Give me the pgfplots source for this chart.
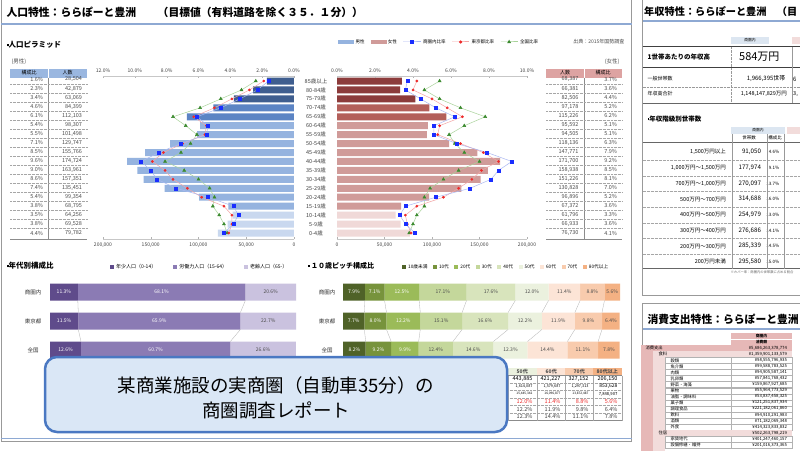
\documentclass[border=0pt]{standalone}
\usepackage{pgfplots}
\pgfplotsset{compat=1.18}
\usepackage{fontspec}
\setmainfont{Noto Sans CJK JP}
\newcommand\fs[1]{\fontsize{#1}{#1}\selectfont}
\definecolor{mA}{HTML}{3F5E8F}
\definecolor{mB}{HTML}{5B84C4}
\definecolor{mC}{HTML}{95B3DF}
\definecolor{mD}{HTML}{C9D8EF}
\definecolor{fA}{HTML}{8C3B3B}
\definecolor{fB}{HTML}{B35F5A}
\definecolor{fC}{HTML}{D09B99}
\definecolor{fD}{HTML}{F0D9D8}
\definecolor{blL}{HTML}{AAB8F2}
\definecolor{blM}{HTML}{1A2EFF}
\definecolor{rdL}{HTML}{F4A6A6}
\definecolor{rdM}{HTML}{EE2A2A}
\definecolor{gnL}{HTML}{A9D39A}
\definecolor{gnM}{HTML}{3B8A2E}
\definecolor{pA}{HTML}{5F4B8B}
\definecolor{pB}{HTML}{8B7BB4}
\definecolor{pC}{HTML}{CAC2DF}
\definecolor{g1}{HTML}{4F6228}
\definecolor{g2}{HTML}{77933C}
\definecolor{g3}{HTML}{9BBB59}
\definecolor{g4}{HTML}{C4D79B}
\definecolor{g5}{HTML}{D8E4BC}
\definecolor{g6}{HTML}{EBF1DE}
\definecolor{g7}{HTML}{FCE4D6}
\definecolor{g8}{HTML}{F8CBAD}
\definecolor{g9}{HTML}{F4B183}
\definecolor{hdrB}{HTML}{DCE6F1}
\definecolor{hdrP}{HTML}{F2DCDB}
\definecolor{pk}{HTML}{E6B8B7}
\definecolor{tblB}{HTML}{9AB7E0}
\definecolor{tblP}{HTML}{DDA3A2}
\definecolor{lineB}{HTML}{8EA9D3}
\definecolor{cfill}{HTML}{DAE7F6}
\definecolor{cedge}{HTML}{4A78C2}
\pgfplotsset{
 pyr/.style={scale only axis, height=163pt, ymin=-0.67, ymax=17.56, axis y line=none,
   axis line style={draw=black!22}, tick style={draw=black!30}, major tick length=2pt,
   tick label style={font=\fs{5}, text=black!75}, clip=false, xmin=0, scaled x ticks=false},
 stk/.style={scale only axis, height=75.4pt, xmin=0, xmax=100, ymin=-0.3, ymax=2.3, hide axis, clip=false},
 sq/.style={legend image code/.code={\fill (0pt,-2pt) rectangle (4pt,2pt);}},
 sl/.style={black!30, line width=0.3pt, forget plot},
}
\begin{document}
\begin{tikzpicture}[font=\fs{5}]
\path[use as bounding box] (0pt,0pt) rectangle (800pt,-450pt);
\begin{scope}[x=1pt,y=-1pt]
\fill[white] (0,0) rectangle (800,450);
% ---------- left panel frame ----------
\draw[black!40, line width=0.6pt] (1,-1) -- (1,441) -- (631.5,441) -- (631.5,-1);
\draw[lineB, line width=1.2pt] (1,24) -- (631.5,24);
\draw[lineB, line width=0.8pt] (1,438) -- (631.5,438);
\node[anchor=west, font=\fs{10.8}\bfseries] at (3,12) {人口特性：ららぽーと豊洲　　（目標値（有料道路を除く３５．１分））};
\node[anchor=east, font=\fs{5}, text=black!70] at (628,42) {出典：2015年国勢調査};
\node[anchor=west, font=\fs{7.5}\bfseries] at (3,45) {\rule[1.5pt]{2pt}{2pt}人口ピラミッド};
% ---------- male table ----------
\node[anchor=west, font=\fs{5.5}, text=black!70] at (8,62) {(男性)};
\fill[tblB] (10,68.5) rectangle (87,77.5);
\draw[white, line width=0.6pt] (48,68.5) -- (48,77.5);
\node[font=\fs{5}] at (29,73) {構成比};
\node[font=\fs{5}] at (67.5,73) {人数};
\draw[black!45, line width=0.4pt] (48,77.5) -- (48,239);
\draw[black!45, line width=0.5pt] (10,239) -- (87,239);
\foreach \r/\n [count=\i from 0] in {1.6/{28,504}, 2.3/{42,879}, 3.4/{63,069}, 4.6/{84,399}, 6.1/{112,103}, 5.4/{98,307}, 5.5/{101,498}, 7.1/{129,747}, 8.5/{155,766}, 9.6/{174,724}, 9.0/{163,961}, 8.6/{157,351}, 7.4/{135,451}, 5.4/{99,354}, 3.8/{68,795}, 3.5/{64,256}, 3.8/{69,528}, 4.4/{79,782}}{
  \node[anchor=east, font=\fs{5.5}, text=black!70] at (46.5,79.5+\i*9.03) {\r\%};
  \node[anchor=east, font=\fs{5.5}, text=black!70] at (85.5,79.5+\i*9.03) {\n};
}
\foreach \i in {0,...,16}{\draw[black!35, densely dotted, line width=0.35pt] (10,84+\i*9.03) -- (87,84+\i*9.03);}
% ---------- female table ----------
\node[anchor=east, font=\fs{5.5}, text=black!70] at (623,62) {(女性)};
\fill[tblP] (546,68.5) rectangle (622,77.5);
\draw[white, line width=0.6pt] (584,68.5) -- (584,77.5);
\node[font=\fs{5}] at (565,73) {人数};
\node[font=\fs{5}] at (603,73) {構成比};
\draw[black!45, line width=0.4pt] (584,77.5) -- (584,239);
\draw[black!45, line width=0.5pt] (546,239) -- (622,239);
\foreach \r/\n [count=\i from 0] in {3.7/{68,387}, 3.6/{66,381}, 4.4/{82,506}, 5.2/{97,178}, 6.2/{115,226}, 5.1/{95,592}, 5.1/{94,505}, 6.3/{118,136}, 7.9/{147,771}, 9.2/{171,700}, 8.5/{158,938}, 8.1/{151,226}, 7.0/{130,828}, 5.2/{96,896}, 3.6/{67,372}, 3.3/{61,796}, 3.6/{66,933}, 4.1/{76,730}}{
  \node[anchor=east, font=\fs{5.5}, text=black!70] at (582,79.5+\i*9.03) {\n};
  \node[anchor=east, font=\fs{5.5}, text=black!70] at (620.5,79.5+\i*9.03) {\r\%};
}
\foreach \i in {0,...,16}{\draw[black!35, densely dotted, line width=0.35pt] (546,84+\i*9.03) -- (622,84+\i*9.03);}
% ---------- age labels ----------
\foreach \a [count=\i from 0] in {85歳以上,80-84歳,75-79歳,70-74歳,65-69歳,60-64歳,55-59歳,50-54歳,45-49歳,40-44歳,35-39歳,30-34歳,25-29歳,20-24歳,15-19歳,10-14歳,5-9歳,0-4歳}{
  \node[font=\fs{5.5}, text=black!75] at (316,81+\i*8.94) {\a};
}
% ---------- bottom headings ----------
\node[anchor=west, font=\fs{7.5}\bfseries] at (3,266) {\rule[1.5pt]{2pt}{2pt}年代別構成比};
\node[anchor=west, font=\fs{7}\bfseries] at (304,266) {\rule[1.5pt]{2pt}{2pt}\ １０歳ピッチ構成比};
\foreach \c/\y in {商圏内/292,東京都/321,全国/350}{
  \node[font=\fs{5.5}, text=black!80] at (33,\y) {\c};
  \node[font=\fs{5.5}, text=black!80] at (327,\y) {\c};
}
% ---------- bottom table (visible part) ----------
\foreach \x/\c/\t in {508/g6/50代,537/g7/60代,565/g8/70代,593/g9/80代以上}{
  \fill[\c] (\x,367.5) rectangle (\x+28.5,375.5);
  \node[font=\fs{5}\bfseries, text=black!70] at (\x+14.2,371.5) {\t};
}
\draw[black!45, line width=0.4pt] (330,375.5) -- (622,375.5);
\foreach \i in {0,...,4}{\draw[black!35, densely dotted, line width=0.35pt] (330,382.7+\i*7.5) -- (622,382.7+\i*7.5);}
\draw[black!45, line width=0.4pt] (330,420.5) -- (622,420.5);
\foreach \x in {508,537,565,593,622}{\draw[black!35, line width=0.3pt] (\x,375.5) -- (\x,420.5);}
\node[anchor=east, font=\fs{5.5}] at (536,379) {443,885};
\node[anchor=east, font=\fs{5.5}] at (564,379) {421,227};
\node[anchor=east, font=\fs{5.5}] at (592,379) {327,152};
\node[anchor=east, font=\fs{5.5}] at (621,379) {206,150};
\node[anchor=east, font=\fs{3.8}] at (536,386.5) {1,614,087};
\node[anchor=east, font=\fs{3.8}] at (564,386.5) {1,579,687};
\node[anchor=east, font=\fs{3.8}] at (592,386.5) {1,297,313};
\node[anchor=east, font=\fs{5}] at (621,386.5) {853,628};
\node[anchor=east, font=\fs{3.2}] at (536,394) {15,445,342};
\node[anchor=east, font=\fs{3.2}] at (564,394) {16,096,877};
\node[anchor=east, font=\fs{3.2}] at (592,394) {13,872,487};
\node[anchor=east, font=\fs{4.2}] at (621,394) {7,848,907};
\foreach \a/\b/\c/\d/\y/\col in {12.0/11.4/8.8/5.6/401.5/rdM, 12.2/11.9/9.8/6.4/409/black!75, 12.3/14.4/11.1/7.8/416.5/black!75}{
  \node[anchor=east, font=\fs{5.5}, text=\col] at (536,\y) {\a\%};
  \node[anchor=east, font=\fs{5.5}, text=\col] at (564,\y) {\b\%};
  \node[anchor=east, font=\fs{5.5}, text=\col] at (592,\y) {\c\%};
  \node[anchor=east, font=\fs{5.5}, text=\col] at (621,\y) {\d\%};
}
\end{scope}

% ================= PYRAMID: male =================
\begin{axis}[pyr, at={(103pt,-239pt)}, anchor=south west, width=191pt, x dir=reverse, xmax=200000,
  axis x line*=bottom, xtick={0,50000,100000,150000,200000},
  xticklabels={0,{50,000},{100,000},{150,000},{200,000}}, xbar, bar width=7pt]
\addplot[fill=mA, draw=none, bar shift=0pt] coordinates {(28504,17) (42879,16) (63069,15)};
\addplot[fill=mB, draw=none, bar shift=0pt] coordinates {(84399,14) (112103,13)};
\addplot[fill=mC, draw=none, bar shift=0pt] coordinates {(98307,12) (101498,11) (129747,10) (155766,9) (174724,8) (163961,7) (157351,6) (135451,5) (99354,4) (68795,3)};
\addplot[fill=mD, draw=none, bar shift=0pt] coordinates {(64256,2) (69528,1) (79782,0)};
\end{axis}
\begin{axis}[pyr, at={(103pt,-239pt)}, anchor=south west, width=191pt, x dir=reverse, xmax=12,
  axis x line*=top, xtick={0,2,4,6,8,10,12},
  xticklabels={0.0\%,2.0\%,4.0\%,6.0\%,8.0\%,10.0\%,12.0\%}]
\addplot[gnL, line width=0.5pt, mark=triangle*, mark size=1.7pt, mark options={draw=gnM, fill=gnM}] coordinates {(2.4,17) (3.3,16) (4.6,15) (5.9,14) (7.6,13) (6.8,12) (6.1,11) (6.5,10) (7.1,9) (8.1,8) (6.9,7) (6.0,6) (5.3,5) (5.0,4) (5.1,3) (4.7,2) (4.4,1) (4.2,0)};
\addplot[rdL, line width=0.5pt, mark=*, mark size=1.1pt, mark options={draw=rdM, fill=rdM}] coordinates {(1.9,17) (2.8,16) (3.9,15) (5.0,14) (6.3,13) (5.5,12) (5.6,11) (7.0,10) (8.2,9) (8.9,8) (8.1,7) (7.6,6) (6.7,5) (5.8,4) (4.4,3) (3.9,2) (3.9,1) (4.1,0)};
\addplot[blL, line width=0.5pt, mark=square*, mark size=1.5pt, mark options={draw=blM, fill=blM}] coordinates {(1.6,17) (2.3,16) (3.4,15) (4.6,14) (6.1,13) (5.4,12) (5.5,11) (7.1,10) (8.5,9) (9.6,8) (9.0,7) (8.6,6) (7.4,5) (5.4,4) (3.8,3) (3.5,2) (3.8,1) (4.4,0)};
\end{axis}

% ================= PYRAMID: female =================
\begin{axis}[pyr, at={(337pt,-239pt)}, anchor=south west, width=190pt, xmax=200000,
  axis x line*=bottom, xtick={0,50000,100000,150000,200000},
  xticklabels={0,{50,000},{100,000},{150,000},{200,000}}, xbar, bar width=7pt]
\addplot[fill=fA, draw=none, bar shift=0pt] coordinates {(68387,17) (66381,16) (82506,15)};
\addplot[fill=fB, draw=none, bar shift=0pt] coordinates {(97178,14) (115226,13)};
\addplot[fill=fC, draw=none, bar shift=0pt] coordinates {(95592,12) (94505,11) (118136,10) (147771,9) (171700,8) (158938,7) (151226,6) (130828,5) (96896,4) (67372,3)};
\addplot[fill=fD, draw=none, bar shift=0pt] coordinates {(61796,2) (66933,1) (76730,0)};
\end{axis}
\begin{axis}[pyr, at={(337pt,-239pt)}, anchor=south west, width=190pt, xmax=10,
  axis x line*=top, xtick={0,2,4,6,8,10},
  xticklabels={0.0\%,2.0\%,4.0\%,6.0\%,8.0\%,10.0\%},
  legend style={at={(0.005,1.2086)}, anchor=west, draw=none, fill=none, legend columns=-1,
    font=\fs{4.5}, inner sep=0pt, /tikz/every even column/.append style={column sep=4pt}},
  legend cell align=left]
\addlegendimage{legend image code/.code={\fill[mC] (0pt,-1.6pt) rectangle (15pt,1.6pt);}}
\addlegendentry{男性}
\addlegendimage{legend image code/.code={\fill[fC] (0pt,-1.6pt) rectangle (15pt,1.6pt);}}
\addlegendentry{女性}
\addlegendimage{blL, line width=1pt, mark=square*, mark size=1.2pt, mark options={draw=blM, fill=blM}}
\addlegendentry{商圏内比率}
\addlegendimage{rdL, line width=1pt, mark=*, mark size=1pt, mark options={draw=rdM, fill=rdM}}
\addlegendentry{東京都比率}
\addlegendimage{gnL, line width=1pt, mark=triangle*, mark size=1.3pt, mark options={draw=gnM, fill=gnM}}
\addlegendentry{全国比率}
\addplot[forget plot, gnL, line width=0.5pt, mark=triangle*, mark size=1.7pt, mark options={draw=gnM, fill=gnM}] coordinates {(5.4,17) (4.6,16) (5.4,15) (6.5,14) (7.8,13) (6.7,12) (5.9,11) (6.2,10) (6.7,9) (7.5,8) (6.4,7) (5.6,6) (4.9,5) (4.6,4) (4.6,3) (4.2,2) (4.0,1) (3.8,0)};
\addplot[forget plot, rdL, line width=0.5pt, mark=*, mark size=1.1pt, mark options={draw=rdM, fill=rdM}] coordinates {(4.2,17) (4.0,16) (5.0,15) (5.8,14) (6.6,13) (5.4,12) (5.3,11) (6.5,10) (7.7,9) (8.5,8) (7.6,7) (7.1,6) (6.4,5) (5.6,4) (4.2,3) (3.6,2) (3.7,1) (3.9,0)};
\addplot[forget plot, blL, line width=0.5pt, mark=square*, mark size=1.5pt, mark options={draw=blM, fill=blM}] coordinates {(3.7,17) (3.6,16) (4.4,15) (5.2,14) (6.2,13) (5.1,12) (5.1,11) (6.3,10) (7.9,9) (9.2,8) (8.5,7) (8.1,6) (7.0,5) (5.2,4) (3.6,3) (3.3,2) (3.6,1) (4.1,0)};
\end{axis}

% ================= age-group stacked bars =================
\begin{axis}[stk, at={(50pt,-283.3pt)}, anchor=north west, width=246pt, xbar stacked, bar width=17pt,
  legend style={at={(0.244,1.216)}, anchor=west, draw=none, fill=none, legend columns=-1, font=\fs{5},
    inner sep=0pt, /tikz/every even column/.append style={column sep=15pt}}]
\addplot[fill=pA, draw=none, sq] coordinates {(11.3,2) (11.5,1) (12.6,0)};
\addlegendentry{年少人口（0-14）}
\addplot[fill=pB, draw=none, sq] coordinates {(68.1,2) (65.9,1) (60.7,0)};
\addlegendentry{労働力人口（15-64）}
\addplot[fill=pC, draw=none, sq] coordinates {(20.6,2) (22.7,1) (26.6,0)};
\addlegendentry{老齢人口（65-）}
\end{axis}
\begin{axis}[stk, at={(50pt,-283.3pt)}, anchor=north west, width=246pt]
\addplot[sl] coordinates {(11.3,1.707) (11.5,1.293)};
\addplot[sl] coordinates {(79.4,1.707) (77.4,1.293)};
\addplot[sl] coordinates {(11.5,0.707) (12.6,0.293)};
\addplot[sl] coordinates {(77.4,0.707) (73.3,0.293)};
\node[font=\fs{5}, text=white] at (axis cs:5.65,2) {11.3\%};
\node[font=\fs{5}, text=white] at (axis cs:45.35,2) {68.1\%};
\node[font=\fs{5}, text=black!70] at (axis cs:89.7,2) {20.6\%};
\node[font=\fs{5}, text=white] at (axis cs:5.75,1) {11.5\%};
\node[font=\fs{5}, text=white] at (axis cs:44.45,1) {65.9\%};
\node[font=\fs{5}, text=black!70] at (axis cs:88.75,1) {22.7\%};
\node[font=\fs{5}, text=white] at (axis cs:6.3,0) {12.6\%};
\node[font=\fs{5}, text=white] at (axis cs:42.95,0) {60.7\%};
\node[font=\fs{5}, text=black!70] at (axis cs:86.6,0) {26.6\%};
\end{axis}

% ================= 10-year stacked bars =================
\begin{axis}[stk, at={(343pt,-283.3pt)}, anchor=north west, width=277pt, xbar stacked, bar width=17pt,
  legend style={at={(0.213,1.216)}, anchor=west, draw=none, fill=none, legend columns=-1, font=\fs{4.7},
    inner sep=0pt, /tikz/every even column/.append style={column sep=3.5pt}}]
\addplot[fill=g1, draw=none, sq] coordinates {(7.9,2) (7.7,1) (8.2,0)};
\addlegendentry{10歳未満}
\addplot[fill=g2, draw=none, sq] coordinates {(7.1,2) (8.0,1) (9.2,0)};
\addlegendentry{10代}
\addplot[fill=g3, draw=none, sq] coordinates {(12.5,2) (12.2,1) (9.9,0)};
\addlegendentry{20代}
\addplot[fill=g4, draw=none, sq] coordinates {(17.1,2) (15.1,1) (12.4,0)};
\addlegendentry{30代}
\addplot[fill=g5, draw=none, sq] coordinates {(17.6,2) (16.6,1) (14.6,0)};
\addlegendentry{40代}
\addplot[fill=g6, draw=none, sq] coordinates {(12.0,2) (12.2,1) (12.3,0)};
\addlegendentry{50代}
\addplot[fill=g7, draw=none, sq] coordinates {(11.4,2) (11.9,1) (14.4,0)};
\addlegendentry{60代}
\addplot[fill=g8, draw=none, sq] coordinates {(8.8,2) (9.8,1) (11.1,0)};
\addlegendentry{70代}
\addplot[fill=g9, draw=none, sq] coordinates {(5.6,2) (6.4,1) (7.8,0)};
\addlegendentry{80代以上}
\end{axis}
\begin{axis}[stk, at={(343pt,-283.3pt)}, anchor=north west, width=277pt]
\addplot[sl] coordinates {(7.9,1.707) (7.7,1.293)};
\addplot[sl] coordinates {(15.0,1.707) (15.7,1.293)};
\addplot[sl] coordinates {(27.5,1.707) (27.9,1.293)};
\addplot[sl] coordinates {(44.6,1.707) (43.0,1.293)};
\addplot[sl] coordinates {(62.2,1.707) (59.6,1.293)};
\addplot[sl] coordinates {(74.2,1.707) (71.8,1.293)};
\addplot[sl] coordinates {(85.6,1.707) (83.7,1.293)};
\addplot[sl] coordinates {(94.4,1.707) (93.5,1.293)};
\addplot[sl] coordinates {(7.7,0.707) (8.2,0.293)};
\addplot[sl] coordinates {(15.7,0.707) (17.4,0.293)};
\addplot[sl] coordinates {(27.9,0.707) (27.3,0.293)};
\addplot[sl] coordinates {(43.0,0.707) (39.7,0.293)};
\addplot[sl] coordinates {(59.6,0.707) (54.3,0.293)};
\addplot[sl] coordinates {(71.8,0.707) (66.6,0.293)};
\addplot[sl] coordinates {(83.7,0.707) (81.0,0.293)};
\addplot[sl] coordinates {(93.5,0.707) (92.1,0.293)};
\node[font=\fs{5}, text=white] at (axis cs:3.95,2) {7.9\%};
\node[font=\fs{5}, text=white] at (axis cs:11.45,2) {7.1\%};
\node[font=\fs{5}, text=white] at (axis cs:21.25,2) {12.5\%};
\node[font=\fs{5}, text=black!70] at (axis cs:36.05,2) {17.1\%};
\node[font=\fs{5}, text=black!70] at (axis cs:53.4,2) {17.6\%};
\node[font=\fs{5}, text=black!70] at (axis cs:68.2,2) {12.0\%};
\node[font=\fs{5}, text=black!70] at (axis cs:79.9,2) {11.4\%};
\node[font=\fs{5}, text=black!70] at (axis cs:90.0,2) {8.8\%};
\node[font=\fs{5}, text=black!70] at (axis cs:97.2,2) {5.6\%};
\node[font=\fs{5}, text=white] at (axis cs:3.85,1) {7.7\%};
\node[font=\fs{5}, text=white] at (axis cs:11.7,1) {8.0\%};
\node[font=\fs{5}, text=white] at (axis cs:21.8,1) {12.2\%};
\node[font=\fs{5}, text=black!70] at (axis cs:35.45,1) {15.1\%};
\node[font=\fs{5}, text=black!70] at (axis cs:51.3,1) {16.6\%};
\node[font=\fs{5}, text=black!70] at (axis cs:65.7,1) {12.2\%};
\node[font=\fs{5}, text=black!70] at (axis cs:77.75,1) {11.9\%};
\node[font=\fs{5}, text=black!70] at (axis cs:88.6,1) {9.8\%};
\node[font=\fs{5}, text=black!70] at (axis cs:96.7,1) {6.4\%};
\node[font=\fs{5}, text=white] at (axis cs:4.1,0) {8.2\%};
\node[font=\fs{5}, text=white] at (axis cs:12.8,0) {9.2\%};
\node[font=\fs{5}, text=white] at (axis cs:22.35,0) {9.9\%};
\node[font=\fs{5}, text=black!70] at (axis cs:33.5,0) {12.4\%};
\node[font=\fs{5}, text=black!70] at (axis cs:47.0,0) {14.6\%};
\node[font=\fs{5}, text=black!70] at (axis cs:60.45,0) {12.3\%};
\node[font=\fs{5}, text=black!70] at (axis cs:73.8,0) {14.4\%};
\node[font=\fs{5}, text=black!70] at (axis cs:86.55,0) {11.1\%};
\node[font=\fs{5}, text=black!70] at (axis cs:96.0,0) {7.8\%};
\end{axis}

% ================= right panels and callout =================
\begin{scope}[x=1pt,y=-1pt]
\begin{scope}
\clip (641,-1) rectangle (800,451);
% panel 1
\draw[black!40, line width=0.6pt] (642.5,-2) -- (642.5,295) -- (802,295);
\node[anchor=west, font=\fs{10.2}\bfseries, inner sep=0pt] at (644,12) {年収特性：ららぽーと豊洲　（目};
\draw[lineB, line width=1.2pt] (642.5,21) -- (800,21);
\fill[hdrB] (731,37) rectangle (769,44);
\node[font=\fs{3.8}] at (750,40.5) {商圏内};
\fill[hdrP] (792,37) rectangle (800,44);
\draw[black!75, line width=0.7pt] (642.5,46.7) -- (800,46.7);
\draw[black!75, line width=0.7pt] (642.5,67.7) -- (800,67.7);
\draw[black!40, densely dotted] (731,46.7) -- (731,103.3);
\draw[black!40] (791.7,46.7) -- (791.7,103.3);
\node[anchor=west, font=\fs{6.5}\bfseries] at (644,57) {1世帯あたりの年収高};
\node[anchor=east, font=\fs{11}] at (783,57) {584万円};
\node[anchor=west, font=\fs{5}] at (644,79) {一般世帯数};
\node[anchor=east, font=\fs{6}] at (789,79) {1,966,395世帯};
\node[anchor=west, font=\fs{6}, inner sep=0pt] at (793,79) {6};
\draw[black!40, densely dotted] (642.5,86.7) -- (800,86.7);
\node[anchor=west, font=\fs{5}] at (644,94) {年収高合計};
\node[anchor=east, font=\fs{5.5}] at (790.5,94) {1,148,147,829万円};
\node[anchor=west, font=\fs{5.5}, inner sep=0pt] at (793,94) {3,};
\draw[black!60, line width=0.5pt] (642.5,103.3) -- (800,103.3);
\node[anchor=west, font=\fs{6.5}\bfseries] at (644,119) {\rule[1.2pt]{1.8pt}{1.8pt}年収階級別世帯数};
\fill[hdrB] (731,127) rectangle (785,134);
\node[font=\fs{3.8}] at (758,130.5) {商圏内};
\fill[hdrP] (787,127) rectangle (800,134);
\node[font=\fs{4.5}] at (749,138) {世帯数};
\node[font=\fs{4.5}] at (775,138) {構成比};
\draw[black!60, line width=0.4pt] (642.5,141.7) -- (800,141.7);
\foreach \l/\c/\p [count=\i from 0] in {{1,500万円以上}/{91,050}/4.6, {1,000万円～1,500万円}/{177,974}/9.1, {700万円～1,000万円}/{270,097}/13.7, {500万円～700万円}/{314,688}/16.0, {400万円～500万円}/{254,979}/13.0, {300万円～400万円}/{276,686}/14.1, {200万円～300万円}/{285,339}/14.5, {200万円未満}/{295,580}/15.0}{
  \node[anchor=east, font=\fs{5.5}] at (729.5,152+\i*15.7) {\l};
  \node[anchor=east, font=\fs{6.2}] at (764.5,152+\i*15.7) {\c};
  \node[anchor=east, font=\fs{4.5}] at (782.8,152+\i*15.7) {\p\%};
}
\foreach \i in {0,...,6}{\draw[black!35, densely dotted, line width=0.35pt] (642.5,160+\i*15.7) -- (800,160+\i*15.7);}
\draw[black!60, line width=0.4pt] (642.5,268.5) -- (800,268.5);
\foreach \x in {731.7,766.7,784.3}{\draw[black!40, line width=0.3pt] (\x,134) -- (\x,268.5);}
\node[font=\fs{3.3}, text=black!60] at (762,272.5) {※カバー率：商圏内の世帯数に占める割合};
% panel 2
\draw[black!40, line width=0.6pt] (642.5,453) -- (642.5,303) -- (802,303);
\node[anchor=west, font=\fs{10.8}\bfseries] at (644,319) {消費支出特性：ららぽーと豊洲};
\draw[lineB, line width=1.2pt] (642.5,329) -- (800,329);
\fill[pk] (731,333.3) rectangle (792,345.3);
\draw[white, line width=0.3pt] (731,339.3) -- (792,339.3);
\node[font=\fs{3.8}\bfseries] at (761.5,336.4) {商圏内};
\node[font=\fs{3.8}\bfseries] at (761.5,342.3) {消費額};
\fill[pk] (641,351.3) rectangle (653,453);
\fill[hdrP] (653,357.4) rectangle (665,430.1);
\fill[hdrP] (653,436.1) rectangle (665,453);
\foreach \lab/\val/\lv [count=\i from 0] in {消費支出/{¥5,686,263,378,774}/0, 食料/{¥1,359,901,133,579}/1, 穀類/{¥98,555,796,935}/2, 魚介類/{¥99,588,783,525}/2, 肉類/{¥94,905,587,141}/2, 乳卵類/{¥57,841,768,432}/2, 野菜・海藻/{¥159,867,927,685}/2, 果物/{¥55,964,773,529}/2, 油脂・調味料/{¥53,837,458,325}/2, 菓子類/{¥121,251,837,934}/2, 調理食品/{¥221,182,061,860}/2, 飲料/{¥94,910,291,983}/2, 酒類/{¥71,182,069,348}/2, 外食/{¥414,323,833,832}/2, 住居/{¥502,263,798,219}/1, 家賃地代/{¥401,247,460,157}/2, 設備修繕・維持/{¥201,016,373,365}/2}{
  \pgfmathsetmacro\yy{348.3+\i*6.05}
  \ifnum\lv=0\relax
    \fill[pk] (641,\yy-3) rectangle (792,\yy+3);
    \node[anchor=west, font=\fs{4.3}] at (642,\yy) {\lab};
  \fi
  \ifnum\lv=1\relax
    \fill[hdrP] (653,\yy-3) rectangle (792,\yy+3);
    \node[anchor=west, font=\fs{4.3}] at (655,\yy) {\lab};
  \fi
  \ifnum\lv=2\relax
    \draw[black!30, line width=0.3pt, fill=white] (665,\yy-3) rectangle (731,\yy+3);
    \draw[black!30, line width=0.3pt, fill=white] (731,\yy-3) rectangle (792,\yy+3);
    \node[anchor=west, font=\fs{4.3}] at (667,\yy) {\lab};
  \fi
  \node[anchor=east, font=\fs{4.3}] at (790.5,\yy) {\val};
}
\end{scope}
% callout
\draw[cedge, line width=2.5pt, fill=cfill, rounded corners=12pt] (45,357) rectangle (507,432);
\node[font=\fontsize{18.5}{25}\selectfont, align=center] at (276,397.5) {某商業施設の実商圏（自動車35分）の\\商圏調査レポート};
\end{scope}
\end{tikzpicture}
\end{document}
